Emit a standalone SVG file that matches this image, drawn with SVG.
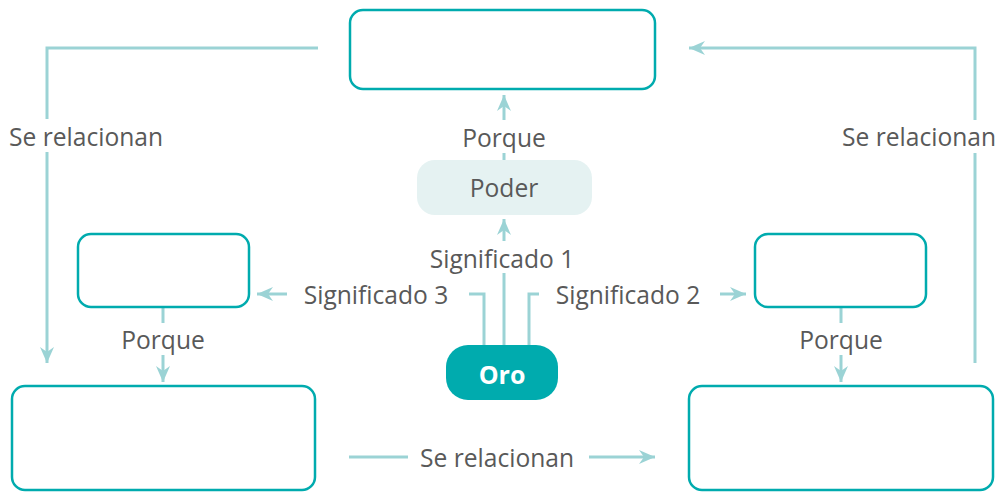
<svg xmlns="http://www.w3.org/2000/svg" width="996" height="492" viewBox="0 0 996 492">
<defs>
<style>
.box{fill:#ffffff;stroke:#00abae;stroke-width:2.5}
.ln{fill:none;stroke:#9bd3d5;stroke-width:3}
.lbl{font-family:"Segoe UI","Open Sans","Noto Sans",sans-serif;font-size:24.6px;fill:#595959;text-anchor:middle}
</style>
<marker id="ah" viewBox="-16 -8 17 16" markerUnits="userSpaceOnUse" markerWidth="17" markerHeight="16" refX="0" refY="0" orient="auto">
<path d="M0,0 L-16,-7 L-11,0 L-16,7 Z" fill="#9bd3d5"/>
</marker>
</defs>
<rect width="996" height="492" fill="#ffffff"/>
<g id="connectors">
<line class="ln" x1="504" y1="120" x2="504" y2="95" marker-end="url(#ah)"/>
<line class="ln" x1="504" y1="153" x2="504" y2="160"/>
<line class="ln" x1="504" y1="241" x2="504" y2="219" marker-end="url(#ah)"/>
<line class="ln" x1="504" y1="273" x2="504" y2="345"/>
<polyline class="ln" points="484,345 484,294 469,294"/>
<line class="ln" x1="287" y1="294" x2="257" y2="294" marker-end="url(#ah)"/>
<polyline class="ln" points="529,345 529,294 539,294"/>
<line class="ln" x1="720" y1="294" x2="746" y2="294" marker-end="url(#ah)"/>
<line class="ln" x1="163" y1="307" x2="163" y2="323"/>
<line class="ln" x1="163" y1="355" x2="163" y2="382" marker-end="url(#ah)"/>
<line class="ln" x1="841" y1="307" x2="841" y2="323"/>
<line class="ln" x1="841" y1="355" x2="841" y2="382" marker-end="url(#ah)"/>
<polyline class="ln" points="318,48 47,48 47,119"/>
<line class="ln" x1="47" y1="152" x2="47" y2="363" marker-end="url(#ah)"/>
<polyline class="ln" points="975,363 975,153"/>
<polyline class="ln" points="975,120 975,48 689,48" marker-end="url(#ah)"/>
<line class="ln" x1="349" y1="457" x2="408" y2="457"/>
<line class="ln" x1="589" y1="457" x2="655" y2="457" marker-end="url(#ah)"/>
<text class="lbl" x="504" y="147">Porque</text>
<text class="lbl" x="502" y="268">Significado 1</text>
<text class="lbl" x="376" y="304">Significado 3</text>
<text class="lbl" x="628" y="304">Significado 2</text>
<text class="lbl" x="163" y="349">Porque</text>
<text class="lbl" x="841" y="349">Porque</text>
<text class="lbl" x="86" y="146">Se relacionan</text>
<text class="lbl" x="919" y="146">Se relacionan</text>
<text class="lbl" x="497" y="467">Se relacionan</text>
</g>
<g id="top">
<rect class="box" x="350" y="10" width="305" height="79" rx="13"/>
</g>
<g id="poder">
<rect x="417" y="160" width="175" height="55" rx="18" fill="#e5f2f2"/>
<text class="lbl" x="504" y="197">Poder</text>
</g>
<g id="oro">
<rect x="446" y="345" width="112" height="55" rx="22" fill="#00abae"/>
<text x="502" y="384" font-family="'Segoe UI','Open Sans','Noto Sans',sans-serif" font-size="25" font-weight="bold" fill="#ffffff" text-anchor="middle">Oro</text>
</g>
<g id="left-small">
<rect class="box" x="78" y="234" width="171" height="73" rx="13"/>
</g>
<g id="right-small">
<rect class="box" x="755" y="234" width="171" height="73" rx="13"/>
</g>
<g id="bottom-left">
<rect class="box" x="12" y="386" width="303" height="104" rx="13"/>
</g>
<g id="bottom-right">
<rect class="box" x="689" y="386" width="304" height="104" rx="13"/>
</g>
</svg>
